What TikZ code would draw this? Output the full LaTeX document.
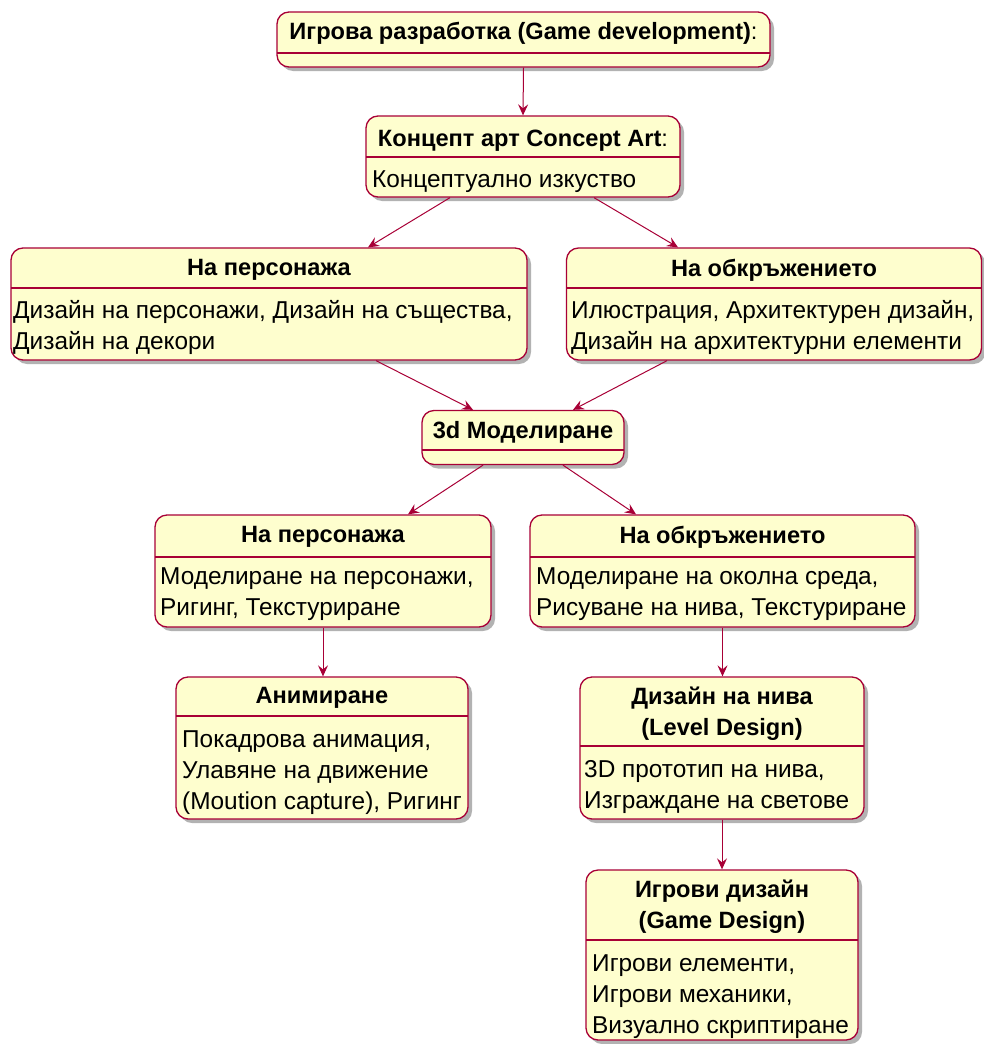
\documentclass[tikz,border=0pt]{standalone}
\usepackage{fontspec}
\setmainfont{Liberation Sans}
\usetikzlibrary{arrows.meta,shadows}
\definecolor{bg}{HTML}{FEFECE}
\definecolor{bdr}{HTML}{A80036}
\begin{document}
\begin{tikzpicture}[x=1pt,y=-1pt,
  font=\fontsize{24.4}{31}\selectfont,
  stbox/.style={draw=bdr, fill=bg, line width=1.3pt, rounded corners=12pt, inner sep=0pt,
     drop shadow={shadow xshift=4pt, shadow yshift=-4pt, opacity=0.3, fill=black}},
  ttl/.style={font=\fontsize{23.6}{31}\selectfont\bfseries, inner sep=0pt, align=center},
  bdy/.style={inner sep=0pt, align=left, anchor=west},
  sepl/.style={draw=bdr, line width=1.3pt},
  arr/.style={draw=bdr, line width=1pt, -{Stealth[length=11pt,width=10pt,inset=4pt]}}]
\useasboundingbox (0,0) rectangle (983,1044);

% top
\node[stbox, minimum width=493pt, minimum height=55pt] (top) at (523.5,39.5) {};
\draw[sepl] (277,53) -- (770,53);
\node[ttl] (topt) at (523.5,33) {Игрова разработка (Game development)\mdseries:};

% concept
\node[stbox, minimum width=314pt, minimum height=81pt] (con) at (523,156.5) {};
\draw[sepl] (366,157) -- (680,157);
\node[ttl] (cont) at (523,141) {Концепт арт Concept Art\mdseries:};
\node[bdy] (conb) at (372,182) {Концептуално изкуство};

% left persona
\node[stbox, minimum width=516pt, minimum height=112pt] (lp) at (269,304) {};
\draw[sepl] (11,288) -- (527,288);
\node[ttl] (lpt) at (269,270) {На персонажа};
\node[bdy] (lpb) at (13,327) {Дизайн на персонажи, Дизайн на същества,\\Дизайн на декори};

% right env
\node[stbox, minimum width=415pt, minimum height=112pt] (rp) at (774,304) {};
\draw[sepl] (566.5,288) -- (981.5,288);
\node[ttl] (rpt) at (774,270) {На обкръжението};
\node[bdy] (rpb) at (571,327) {Илюстрация, Архитектурен дизайн,\\Дизайн на архитектурни елементи};

% 3d
\node[stbox, minimum width=202pt, minimum height=54pt] (m3) at (523,437.5) {};
\draw[sepl] (422,450) -- (624,450);
\node[ttl] (m3t) at (523,432) {3d Моделиране};

% left model
\node[stbox, minimum width=336pt, minimum height=112pt] (lm) at (323,571) {};
\draw[sepl] (155,557) -- (491,557);
\node[ttl] (lmt) at (323,537) {На персонажа};
\node[bdy] (lmb) at (160,594) {Моделиране на персонажи,\\Ригинг, Текстуриране};

% right model
\node[stbox, minimum width=385pt, minimum height=112pt] (rm) at (722.5,571) {};
\draw[sepl] (530,557) -- (915,557);
\node[ttl] (rmt) at (722.5,537) {На обкръжението};
\node[bdy] (rmb) at (536,594) {Моделиране на околна среда,\\Рисуване на нива, Текстуриране};

% animation
\node[stbox, minimum width=292pt, minimum height=142pt] (an) at (322,748) {};
\draw[sepl] (176,716) -- (468,716);
\node[ttl] (ant) at (322,698) {Анимиране};
\node[bdy] (anb) at (182,772.5) {Покадрова анимация,\\Улавяне на движение\\(Moution capture), Ригинг};

% level design
\node[stbox, minimum width=284pt, minimum height=142pt] (lv) at (722,748) {};
\draw[sepl] (580,746) -- (864,746);
\node[ttl] (lvt) at (722,714) {Дизайн на нива\\(Level Design)};
\node[bdy] (lvb) at (584,787) {3D прототип на нива,\\Изграждане на светове};

% game design
\node[stbox, minimum width=272pt, minimum height=170pt] (gd) at (722,955) {};
\draw[sepl] (586,940) -- (858,940);
\node[ttl] (gdt) at (722,907) {Игрови дизайн\\(Game Design)};
\node[bdy] (gdb) at (592,996.5) {Игрови елементи,\\Игрови механики,\\Визуално скриптиране};

% connectors
\draw[arr] (top.south) -- (con.north);
\draw[arr] ([xshift=-73pt]con.south) -- ([xshift=99pt]lp.north);
\draw[arr] ([xshift=71pt]con.south) -- ([xshift=-96pt]rp.north);
\draw[arr] ([xshift=107pt]lp.south) -- ([xshift=-50pt]m3.north);
\draw[arr] ([xshift=-107pt]rp.south) -- ([xshift=50pt]m3.north);
\draw[arr] ([xshift=-40pt]m3.south) -- ([xshift=85pt]lm.north);
\draw[arr] ([xshift=40pt]m3.south) -- ([xshift=-86.5pt]rm.north);
\draw[arr] (lm.south) -- (lm.south |- an.north);
\draw[arr] (rm.south) -- (rm.south |- lv.north);
\draw[arr] (lv.south) -- (gd.north);
\end{tikzpicture}
\end{document}
